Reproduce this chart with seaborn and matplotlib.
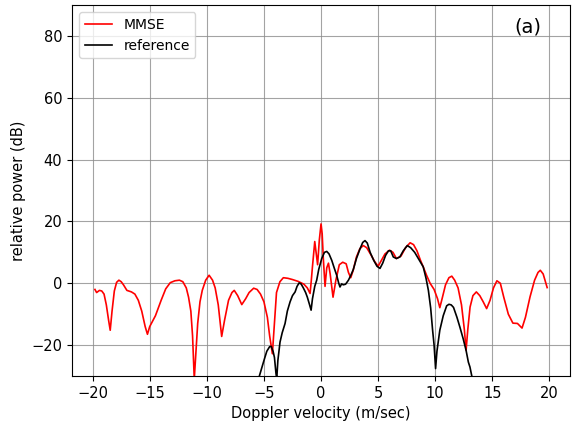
import numpy as np
import pandas as pd
import matplotlib
matplotlib.use("Agg")
import matplotlib.pyplot as plt
import seaborn as sns

mmse_v = [-19.8, -19.65, -19.4, -19.2, -19.0, -18.8, -18.6, -18.46, -18.3, -18.1, -17.9, -17.7,
          -17.5, -17.3, -17.0, -16.6, -16.3, -16.0, -15.7, -15.4, -15.2, -15.0, -14.5, -14.0,
          -13.6, -13.2, -12.8, -12.4, -12.1, -11.8, -11.6, -11.4, -11.25, -11.1, -10.95, -10.8,
          -10.6, -10.4, -10.1, -9.8, -9.5, -9.27, -9.0, -8.7, -8.45, -8.1, -7.8, -7.6, -7.3,
          -6.94, -6.6, -6.3, -5.9, -5.6, -5.3, -5.0, -4.7, -4.5, -4.26, -4.1, -3.9, -3.6, -3.3,
          -2.9, -2.5, -2.0, -1.5, -1.2, -0.96, -0.85, -0.76, -0.55, -0.4, -0.3, -0.15, 0.0, 0.1,
          0.2, 0.35, 0.5, 0.65, 0.8, 1.05, 1.3, 1.6, 1.9, 2.2, 2.4, 2.6, 2.8, 3.1, 3.4, 3.7, 4.0,
          4.4, 4.7, 5.0, 5.3, 5.6, 6.0, 6.3, 6.6, 7.0, 7.4, 7.8, 8.1, 8.4, 8.7, 8.95, 9.25, 9.55,
          9.9, 10.2, 10.4, 10.6, 10.9, 11.2, 11.45, 11.7, 12.0, 12.3, 12.55, 12.7, 12.85, 13.05,
          13.3, 13.6, 13.9, 14.2, 14.5, 14.8, 15.1, 15.4, 15.7, 16.0, 16.4, 16.8, 17.2, 17.6,
          17.9, 18.3, 18.7, 19.0, 19.2, 19.45, 19.8]
mmse_p = [-2.0, -3.0, -2.3, -2.5, -3.5, -7, -12, -15.2, -9, -2.5, 0.3, 1.0,
          0.5, -0.5, -2.3, -2.8, -3.5, -5.5, -9, -14, -16.5, -14, -10.5, -5.5,
          -1.8, 0.2, 0.8, 1.0, 0.5, -1.5, -4.5, -9, -17, -31, -22, -13,
          -6, -2.3, 1.0, 2.6, 1.0, -1.5, -7, -17.2, -12, -5.5, -3, -2.3, -4,
          -6.9, -5, -3, -1.6, -2, -3.5, -6, -11, -17, -22.8, -14, -3, 0.5, 1.8,
          1.6, 1.2, 0.6, -0.3, -1.5, -3.3, 1, 5, 13.5, 9, 6, 14, 19.2, 16,
          8, -1, 5, 6.5, 3, -4.5, 1, 6, 6.8, 6.3, 3.5, 1.8, 4, 8.5, 11.2, 12.2, 11.5,
          9, 7, 5.5, 7.5, 9.5, 10.7, 10, 8, 8.8, 11.5, 13.1, 12.5, 10.5, 7.5, 5.3, 2.5, 0,
          -2, -5, -7.9, -5, -0.5, 1.8, 2.3, 1, -1.5, -7, -15, -21.7, -15, -7.7,
          -4, -2.8, -4, -6, -8.2, -5.5, -1.5, 0.8, 0, -4.5, -10, -12.9, -13, -14.5,
          -11, -4.4, 1, 3.5, 4.2, 3, -1.4]

ref_v = [-5.6, -5.4, -5.2, -5.0, -4.75, -4.5, -4.37, -4.2, -4.08, -3.95, -3.88, -3.78, -3.59,
         -3.4, -3.15, -2.95, -2.71, -2.5, -2.27, -2.1, -1.92, -1.75, -1.55, -1.35, -1.2, -1.0,
         -0.87, -0.75, -0.55, -0.38, -0.2, 0.06, 0.3, 0.5, 0.7, 0.94, 1.15, 1.37, 1.55, 1.66,
         1.8, 1.95, 2.15, 2.4, 2.6, 2.83, 3.1, 3.4, 3.65, 3.85, 4.05, 4.3, 4.6, 4.9, 5.16, 5.4,
         5.65, 5.9, 6.1, 6.33, 6.6, 6.9, 7.2, 7.55, 7.85, 8.2, 8.6, 8.95, 9.2, 9.4, 9.6, 9.77,
         9.9, 10.03, 10.15, 10.4, 10.7, 11.0, 11.2, 11.4, 11.6, 11.9, 12.16, 12.45, 12.7, 12.9,
         13.04, 13.2, 13.3]
ref_p = [-35, -30, -27.5, -25, -22, -20.5, -20.4, -22, -24, -29, -31, -25, -19,
         -16, -13, -9, -6, -4, -2.8, -1, 0.1, -0.2, -1.5, -3, -4.5, -7,
         -8.7, -5, -1, 1, 4.5, 8, 10, 10.3, 9.5, 7.4, 5, 2.6, 0, -1.2,
         -0.2, -0.5, -0.3, 1, 2.5, 4.5, 8, 11, 13.2, 13.8, 13, 10, 7.5, 5.5, 4.8, 6.5,
         9, 10.5, 10.5, 8.5, 8, 8.5, 10.5, 12.2, 11.5, 10, 7.5, 5.3, 1.5, -2.3, -8, -15.2,
         -20, -27.6, -22, -15.2, -10.5, -7.3, -6.8, -7, -7.8, -11, -14.2, -18, -21.7, -25.5,
         -27.1, -30, -34]

series_names = ["MMSE", "reference"]

df = pd.concat([
    pd.DataFrame({"v": mmse_v, "p": mmse_p, "s": series_names[0]}),
    pd.DataFrame({"v": ref_v, "p": ref_p, "s": series_names[1]}),
], ignore_index=True)

fig = plt.figure(figsize=(5.72, 4.22), dpi=100)
ax = fig.add_axes([0.126, 0.109, 0.8705, 0.879])
sns.lineplot(data=df, x="v", y="p", hue="s",
             palette={"MMSE": "red", "reference": "black"}, estimator=None, sort=False,
             linewidth=1.2, ax=ax)
ax.set_xlim(-21.8, 21.8)
ax.set_ylim(-30, 90)
ax.set_xticks([-20, -15, -10, -5, 0, 5, 10, 15, 20])
ax.set_yticks([-20, 0, 20, 40, 60, 80])
ax.grid(True, color="0.55", linewidth=0.8, alpha=0.8)
ax.set_axisbelow(True)
ax.tick_params(labelsize=10.5)
ax.set_xlabel("Doppler velocity (m/sec)", fontsize=10.5)
ax.set_ylabel("relative power (dB)", fontsize=10.5)
for sp in ax.spines.values():
    sp.set_color("black")
ax.legend(loc="upper left", fontsize=10, title=None, handlelength=2.0)
ax.text(0.915, 0.94, "(a)", transform=ax.transAxes, fontsize=14, ha="center", va="center")
fig.savefig("out.png", dpi=100)
